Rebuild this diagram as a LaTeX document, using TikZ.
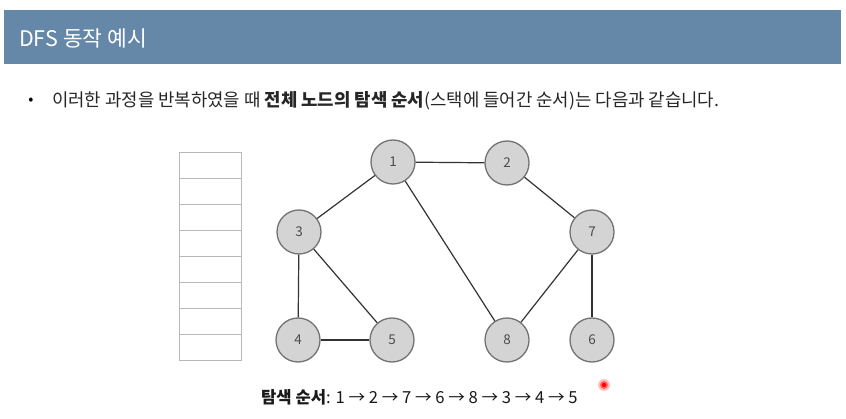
\documentclass[tikz,border=0pt]{standalone}
\usepackage{fontspec}
\setmainfont{Noto Sans CJK KR}
\begin{document}
\begin{tikzpicture}[x=1pt,y=-1pt,
  gnode/.style={circle,draw=black!55,line width=1.3pt,fill=black!17,minimum size=44pt,inner sep=0pt,font=\fontsize{13.5}{13.5}\selectfont,text=black!70},
  gedge/.style={draw=black!80,line width=1.2pt},
  cell/.style={draw=black!28,line width=0.8pt},
  hdr/.style={fill=hdrblue,draw=none}]
\definecolor{hdrblue}{RGB}{101,136,168}
\useasboundingbox (0,0) rectangle (846,419);
\fill[white] (0,0) rectangle (846,419);
% header
\node[hdr,minimum width=837pt,minimum height=54pt,anchor=north west,inner sep=0pt] (bar) at (4,10) {};
\node[anchor=west,text=white,font=\fontsize{21.5}{21.5}\selectfont,inner sep=0pt] (title) at (19,38) {DFS 동작 예시};
% bullet
\node[anchor=center,font=\fontsize{15}{15}\selectfont,inner sep=0pt] (bul) at (31,101) {•};
\node[anchor=west,font=\fontsize{17.8}{18}\selectfont,inner sep=0pt,text=black!85] (line) at (52,101) {이러한 과정을 반복하였을 때 \textbf{전체 노드의 탐색 순서}(스택에 들어간 순서)는 다음과 같습니다.};
% stack
\foreach \i in {0,...,7} {
  \node[cell,anchor=north west,minimum width=62pt,minimum height=26pt,inner sep=0pt] (s\i) at (179,152+26*\i) {};
}
% graph nodes
\node[gnode] (n1) at (393,162) {1};
\node[gnode] (n2) at (507,163) {2};
\node[gnode] (n3) at (299,232) {3};
\node[gnode] (n7) at (592,232) {7};
\node[gnode] (n4) at (298,340) {4};
\node[gnode] (n5) at (392,340) {5};
\node[gnode] (n8) at (507,340) {8};
\node[gnode] (n6) at (592,340) {6};
\draw[gedge] (n1) -- (n2);
\draw[gedge] (n1) -- (n3);
\draw[gedge] (n1) -- (n8);
\draw[gedge] (n2) -- (n7);
\draw[gedge] (n3) -- (n4);
\draw[gedge] (n3) -- (n5);
\draw[gedge] (n4) -- (n5);
\draw[gedge] (n7) -- (n8);
\draw[gedge] (n7) -- (n6);
% order text
\node[anchor=west,font=\fontsize{16.6}{17}\selectfont,inner sep=0pt,text=black!90] (order) at (261,397) {\textbf{탐색 순서}: 1 → 2 → 7 → 6 → 8 → 3 → 4 → 5};
% pointer dot
\fill[red!25] (604,385) circle (6);
\fill[red!60] (604,385) circle (4);
\fill[red] (604,385) circle (2.2);
\end{tikzpicture}
\end{document}
